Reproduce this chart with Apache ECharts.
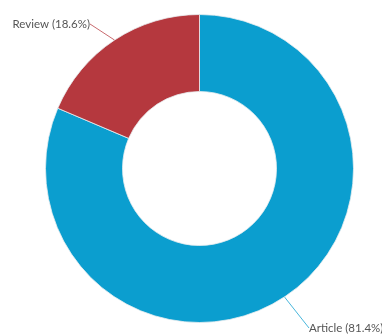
<!DOCTYPE html>
<html>
<head>
<meta charset="utf-8">
<script src="https://cdn.jsdelivr.net/npm/echarts@6/dist/echarts.min.js"></script>
<style>
  html, body { margin: 0; padding: 0; background: #fff; }
  #chart { width: 382px; height: 334px; }
</style>
</head>
<body>
<div id="chart"></div>
<script>
// Document types and their share of the total (percent)
const categories = ['Article', 'Review'];
const shares = [81.4, 18.6];
const sliceColors = ['#0b9ecf', '#b5383e'];

// Where each slice's label sits (pixels)
const labelSpots = [
  { x: 309, y: 328, align: 'left' },
  { x: 90, y: 24, align: 'right' }
];

const chart = echarts.init(document.getElementById('chart'), null, { renderer: 'canvas' });

chart.setOption({
  animation: false,
  series: [{
    type: 'pie',
    center: [199.5, 168.5],
    radius: [77, 154],
    startAngle: 90,
    clockwise: true,
    data: categories.map((name, i) => ({
      name,
      value: shares[i],
      itemStyle: { color: sliceColors[i] }
    })),
    itemStyle: { borderColor: '#e8eef0', borderWidth: 0.8 },
    label: {
      show: true,
      position: 'outside',
      overflow: 'none',
      formatter: p => p.name + ' (' + p.value.toFixed(1) + '%)',
      color: '#555',
      fontFamily: 'Lato',
      fontSize: 11.5
    },
    labelLine: {
      show: true,
      length: 22,
      length2: 0,
      smooth: 0.3,
      lineStyle: { width: 1, opacity: 0.75 }
    },
    labelLayout: p => ({
      x: labelSpots[p.dataIndex].x,
      y: labelSpots[p.dataIndex].y,
      align: labelSpots[p.dataIndex].align,
      verticalAlign: 'middle'
    }),
    emphasis: { disabled: true }
  }]
});
</script>
</body>
</html>
